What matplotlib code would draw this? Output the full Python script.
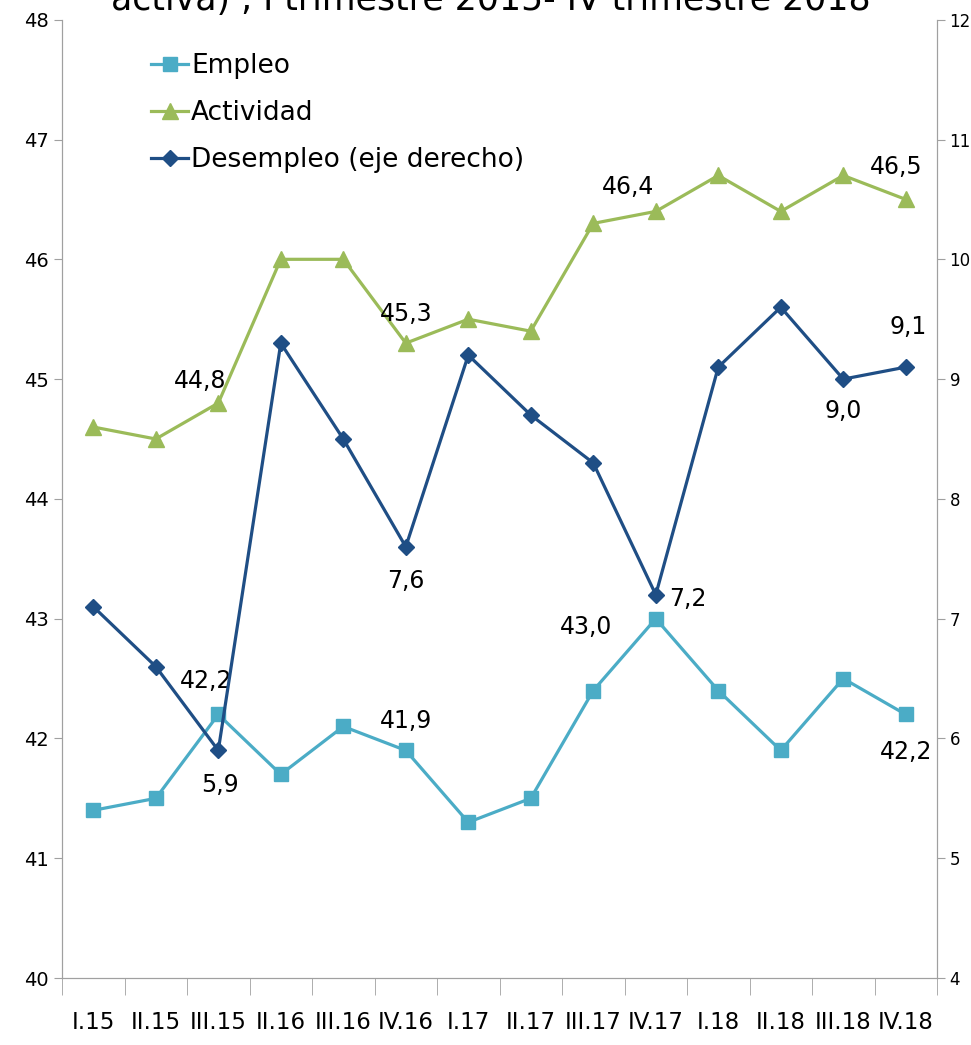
import matplotlib.pyplot as plt

# Quarters and series (%)
quarters = ['I.15', 'II.15', 'III.15', 'II.16', 'III.16', 'IV.16', 'I.17',
            'II.17', 'III.17', 'IV.17', 'I.18', 'II.18', 'III.18', 'IV.18']
empleo = [41.4, 41.5, 42.2, 41.7, 42.1, 41.9, 41.3, 41.5, 42.4, 43.0, 42.4, 41.9, 42.5, 42.2]
actividad = [44.6, 44.5, 44.8, 46.0, 46.0, 45.3, 45.5, 45.4, 46.3, 46.4, 46.7, 46.4, 46.7, 46.5]
desempleo = [7.1, 6.6, 5.9, 9.3, 8.5, 7.6, 9.2, 8.7, 8.3, 7.2, 9.1, 9.6, 9.0, 9.1]

# which points get a value label, with pixel offsets
emp_labels = {2: (-12, 33), 5: (0, 29), 9: (-70, -8), 13: (0, -38)}
act_labels = {2: (-18, 22), 5: (0, 29), 9: (-28, 24), 13: (-10, 32)}
des_labels = {2: (2, -35), 5: (0, -34), 9: (32, -4), 12: (0, -32), 13: (2, 40)}

c_emp = '#4BACC6'
c_act = '#9BBB59'
c_des = '#1F4E85'

fig = plt.figure(figsize=(9.71, 10.45), dpi=100)
ax = fig.add_axes([0.0639, 0.0641, 0.9011, 0.917])
ax2 = ax.twinx()

x = list(range(len(quarters)))
l1, = ax.plot(x, empleo, color=c_emp, lw=2.3, marker='s', ms=10, label='Empleo')
l2, = ax.plot(x, actividad, color=c_act, lw=2.3, marker='^', ms=11, label='Actividad')
l3, = ax2.plot(x, desempleo, color=c_des, lw=2.3, marker='D', ms=8, label='Desempleo (eje derecho)')

def fmt(v):
    return f'{v:.1f}'.replace('.', ',')

for series, labels, a in [(empleo, emp_labels, ax), (actividad, act_labels, ax),
                          (desempleo, des_labels, ax2)]:
    for i, (dx, dy) in labels.items():
        a.annotate(fmt(series[i]), (i, series[i]), xytext=(dx, dy),
                   textcoords='offset pixels', ha='center', va='center', fontsize=17)

ax.set_xlim(-0.5, len(quarters) - 0.5)
ax.set_ylim(40, 48)
ax2.set_ylim(4, 12)
ax.set_yticks(range(40, 49))
ax2.set_yticks(range(4, 13))

ax.set_xticks(x)
ax.set_xticklabels(quarters, fontsize=16.5)
ax.set_xticks([i - 0.5 for i in range(len(quarters) + 1)], minor=True)
ax.tick_params(axis='x', which='major', length=0, pad=24)
ax.tick_params(axis='x', which='minor', length=12, color='#A0A0A0')
ax.tick_params(axis='y', labelsize=14, length=6, color='#A0A0A0')
ax2.tick_params(axis='y', labelsize=12, length=6, pad=3, color='#A0A0A0')

for a in (ax, ax2):
    a.spines['top'].set_visible(False)
    for s in ('left', 'right', 'bottom'):
        a.spines[s].set_color('#A0A0A0')

ax.legend(handles=[l1, l2, l3], loc='upper left', bbox_to_anchor=(0.075, 0.99),
          frameon=False, fontsize=19, handlelength=1.4, handletextpad=0.1,
          labelspacing=0.8)

fig.text(0.505, 0.9905, 'activa) , I trimestre 2015- IV trimestre 2018',
         ha='center', va='baseline', fontsize=25)

fig.savefig('out.png', dpi=100)
